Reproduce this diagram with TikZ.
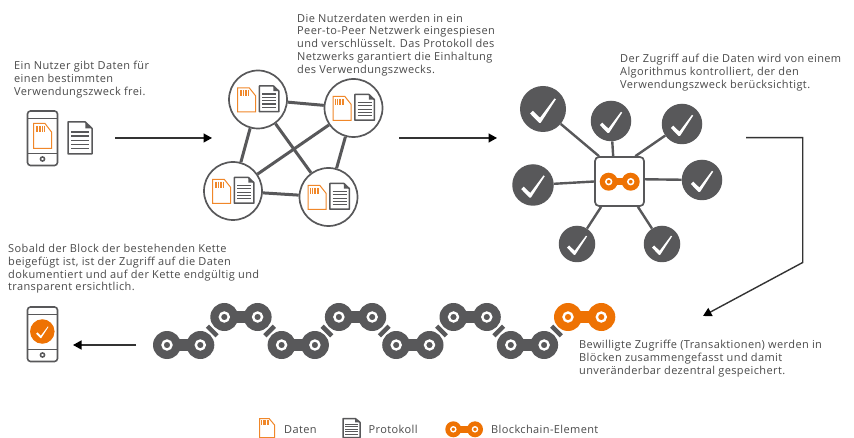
\documentclass[tikz,border=0pt]{standalone}
\usepackage{fontspec}
\setmainfont[LetterSpace=3.5]{Open Sans}
\usetikzlibrary{arrows.meta}
\definecolor{dk}{HTML}{58585A}
\definecolor{org}{HTML}{EE7203}
\definecolor{txt}{HTML}{4A4A4A}
\tikzset{
 caption/.style={anchor=north west,inner sep=0pt,align=left,text=txt,font=\fontsize{11}{12.8}\selectfont},
 legendtext/.style={anchor=base west,inner sep=0pt,text=txt,font=\fontsize{11}{12.8}\selectfont},
 peer/.style={circle,draw=dk,line width=1.7pt,fill=white,minimum size=58pt,inner sep=0pt},
 mesh/.style={draw=dk,line width=3pt},
 spoke/.style={draw=dk,line width=2.4pt},
 okdisc/.style={circle,fill=dk,inner sep=0pt},
 flow/.style={draw=black!80,line width=1.4pt,-{Triangle[length=8.5pt,width=9pt,color=black]}},
 hub/.style={draw=dk,line width=1.7pt,fill=white,rounded corners=4pt,minimum width=49pt,minimum height=49pt,inner sep=0pt},
}
% #1 x, #2 y of top-left, #3 w, #4 h
\newcommand\cardicon[4]{\begin{scope}[shift={(#1,#2)},x=#3pt,y=-#4pt]
 \draw[org!85!white,line width=1pt,fill=white,line join=miter] (0,0)--(.64,0)--(1,.34)--(1,1)--(0,1)--cycle;
 \foreach \s in {.14,.23,.32,.41,.50,.59}{\draw[org!85!white,line width=.8pt] (\s,.1)--(\s,.36);}
\end{scope}}
\newcommand\docicon[4]{\begin{scope}[shift={(#1,#2)},x=#3pt,y=-#4pt]
 \draw[dk,line width=1.5pt,fill=white,line join=round] (0,0)--(.72,0)--(1,.2)--(1,1)--(0,1)--cycle;
 \fill[dk] (.72,0)--(1,.2)--(.72,.2)--cycle;
 \foreach \s in {.31,.44,.57,.70,.83}{\draw[dk,line width=1.2pt] (.14,\s)--(.86,\s);}
\end{scope}}
% #1 x1, #2 y, #3 dx, #4 r, #5 colour
\newcommand\chainlink[5]{
 \fill[#5] (#1,#2) circle[radius=#4pt];
 \fill[#5] (#1+#3,#2) circle[radius=#4pt];
 \fill[#5] (#1,#2-.42*#4) rectangle (#1+#3,#2+.42*#4);
 \draw[white,line width=.17*#4 pt] (#1,#2) circle[radius=.32*#4 pt];
 \draw[white,line width=.17*#4 pt] (#1+#3,#2) circle[radius=.32*#4 pt];
}
\newcommand\spacer[3]{\draw[dk,line width=4.5pt] (#1-4.8*#3,#2-4.8)--(#1+4.8*#3,#2+4.8);}
\newcommand\tickmark[3]{\fill[white] (#1-.56*#3,#2+.2*#3)--(#1-.44*#3,#2+.08*#3)--(#1-.13*#3,#2+.38*#3)--(#1+.5*#3,#2-.46*#3)--(#1+.56*#3,#2-.42*#3)--(#1-.1*#3,#2+.6*#3)--(#1-.17*#3,#2+.6*#3)--cycle;}
\newcommand\phoneicon[3]{% x-centre, top, height
 \draw[dk,line width=1.6pt,rounded corners=3pt,fill=white] (#1-15,#2) rectangle (#1+15,#2+#3);
 \draw[dk,line width=1.6pt] (#1-15,#2+7.5)--(#1+15,#2+7.5) (#1-15,#2+#3-12)--(#1+15,#2+#3-12);
 \draw[dk,line width=1.5pt] (#1,#2+#3-6.5) circle[radius=2.1pt];
}
\begin{document}
\begin{tikzpicture}[x=1pt,y=-1pt]
\useasboundingbox (0,0) rectangle (854,438);
\fill[white] (0,0) rectangle (854,438);

% captions
\node[caption] (t1) at (14,61) {Ein Nutzer gibt Daten für\\einen bestimmten\\Verwendungszweck frei.};
\node[caption] (t2) at (297,13.5) {Die Nutzerdaten werden in ein\\Peer-to-Peer Netzwerk eingespiesen\\und verschlüsselt. Das Protokoll des\\Netzwerks garantiert die Einhaltung\\des Verwendungszwecks.};
\node[caption] (t3) at (620,54) {Der Zugriff auf die Daten wird von einem\\Algorithmus kontrolliert, der den\\Verwendungszweck berücksichtigt.};
\node[caption] (t4) at (8,244) {Sobald der Block der bestehenden Kette\\beigefügt ist, ist der Zugriff auf die Daten\\dokumentiert und auf der Kette endgültig und\\transparent ersichtlich.};
\node[caption] (t5) at (579,340) {Bewilligte Zugriffe (Transaktionen) werden in\\Blöcken zusammengefasst und damit\\unveränderbar dezentral gespeichert.};

% first phone
\phoneicon{42.5}{111}{54.5}
\cardicon{33.5}{123.5}{18}{25}
\docicon{68}{122}{24}{32}

% network
\node[peer] (c1) at (258,99.5) {};
\node[peer] (c2) at (353.5,108) {};
\node[peer] (c3) at (233,191) {};
\node[peer] (c4) at (328.5,197) {};
\draw[mesh] (c1)--(c2) (c1)--(c3) (c1)--(c4) (c2)--(c3) (c2)--(c4) (c3)--(c4);
\foreach \cx/\cy in {258/99.5,353.5/108,233/191,328.5/197}{
 \cardicon{\cx-20.3}{\cy-11.7}{18}{24}
 \docicon{\cx+1.4}{\cy-13.5}{19.5}{25.7}
}

% hub
\node[okdisc,minimum size=46pt] (k1) at (543,109) {};
\node[okdisc,minimum size=40.5pt] (k2) at (611,121) {};
\node[okdisc,minimum size=40.5pt] (k3) at (682,124) {};
\node[okdisc,minimum size=40.5pt] (k4) at (702,180) {};
\node[okdisc,minimum size=36.5pt] (k5) at (662,244) {};
\node[okdisc,minimum size=36.5pt] (k6) at (577,244) {};
\node[okdisc,minimum size=41.5pt] (k7) at (533,185) {};
\node[hub] (hubbox) at (619.5,181.5) {};
\draw[spoke] (k1)--(hubbox.129) (k2)--(hubbox.104) (k3)--(hubbox.58) (k4)--(hubbox.5)
 (k5)--(hubbox.-54) (k6)--(hubbox.-126) (k7)--(hubbox.180);
\tickmark{543}{109}{23}
\tickmark{611}{121}{20}
\tickmark{682}{124}{20}
\tickmark{702}{180}{20}
\tickmark{662}{244}{18}
\tickmark{577}{244}{18}
\tickmark{533}{185}{21}
\chainlink{608.7}{181.7}{22}{9}{org}

% chain
\foreach \lx/\ly in {167/345,224.3/317,281.6/345,338.9/317,396.2/345,453.5/317,510.8/345}{
 \chainlink{\lx}{\ly}{33.3}{14}{dk}
}
\chainlink{568}{317}{33.3}{14}{org}
\spacer{212.3}{331}{1}
\spacer{269.6}{331}{-1}
\spacer{326.9}{331}{1}
\spacer{384.2}{331}{-1}
\spacer{441.5}{331}{1}
\spacer{498.8}{331}{-1}
\spacer{556.5}{331}{1}

% second phone
\phoneicon{42.5}{307}{54.5}
\node[circle,fill=org,inner sep=0pt,minimum size=24.5pt] (okb) at (42.3,331.5) {};
\tickmark{42.3}{331.5}{11}

% arrows
\coordinate (a1s) at (115,138); \coordinate (a1e) at (212,138);
\coordinate (a2s) at (399,138); \coordinate (a2e) at (497,138);
\coordinate (a3s) at (746,137.7); \coordinate (a3a) at (802.7,137.7); \coordinate (a3b) at (802.7,262.5); \coordinate (a3e) at (703,316);
\coordinate (a4s) at (136,345); \coordinate (a4e) at (73,345);
\draw[flow] (a1s)--(a1e);
\draw[flow] (a2s)--(a2e);
\draw[flow,line join=miter] (a3s)--(a3a)--(a3b)--(a3e);
\draw[flow] (a4s)--(a4e);

% legend
\cardicon{259.5}{418.5}{15}{19}
\node[legendtext] (l1) at (284,433) {Daten};
\docicon{343}{418.5}{17}{19}
\node[legendtext] (l2) at (368.5,433) {Protokoll};
\chainlink{453.3}{429.3}{21.7}{8}{org}
\node[legendtext] (l3) at (491,433) {Blockchain-Element};
\end{tikzpicture}
\end{document}
